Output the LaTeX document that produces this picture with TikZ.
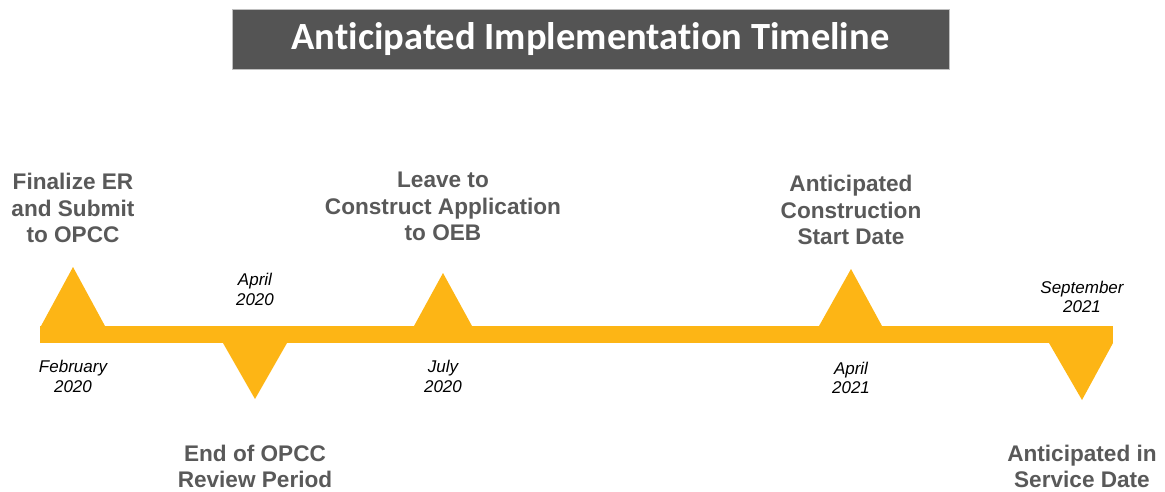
\documentclass[tikz,border=0pt]{standalone}
\usepackage{fontspec}
\setmainfont{Liberation Sans}
\newfontfamily\titlefont[Ligatures=NoCommon]{Carlito}
\definecolor{baryellow}{HTML}{FDB515}
\definecolor{labelgray}{HTML}{595959}
\definecolor{titlefill}{HTML}{545454}
\definecolor{titleedge}{HTML}{BFBFBF}
\begin{document}
\begin{tikzpicture}[x=1pt,y=-1pt,
  event/.style={inner sep=0pt, align=center, text=labelgray, font=\bfseries\fontsize{22.6}{26.8}\selectfont},
  datelbl/.style={inner sep=0pt, align=center, text=black, font=\itshape\fontsize{17}{19.5}\selectfont},
  marker/.style={fill=baryellow, draw=none}]
\useasboundingbox (0,0) rectangle (1165,491);
% title
\node[fill=titlefill, draw=titleedge, line width=0.8pt, minimum width=717pt, minimum height=60pt, inner sep=0pt,
      text=white, font=\titlefont\bfseries\fontsize{38.5}{42}\selectfont] (title) at (590.5,39) {Anticipated Implementation Timeline};
% bar
\fill[marker] (40,326) rectangle (1113,343);
% markers
\fill[marker] (41,326) -- (73,267) -- (105,326) -- cycle;
\fill[marker] (223,343) -- (255,399) -- (287,343) -- cycle;
\fill[marker] (414,326) -- (443,273) -- (472,326) -- cycle;
\fill[marker] (819,326) -- (851,269) -- (882,326) -- cycle;
\fill[marker] (1049,343) -- (1082,400) -- (1113,343) -- cycle;
% event labels
\node[event] (e1) at (73,208) {Finalize ER\\and Submit\\to OPCC};
\node[event] (e2) at (255,466.5) {End of OPCC\\Review Period};
\node[event] (e3) at (443,206.5) {Leave to\\Construct Application\\to OEB};
\node[event] (e4) at (851,210) {Anticipated\\Construction\\Start Date};
\node[event] (e5) at (1082,466.5) {Anticipated in\\Service Date};
% dates
\node[datelbl] (d1) at (73,376.5) {February\\2020};
\node[datelbl] (d2) at (255,289.5) {April\\2020};
\node[datelbl] (d3) at (443,376.5) {July\\2020};
\node[datelbl] (d4) at (851,378) {April\\2021};
\node[datelbl] (d5) at (1082,297) {September\\2021};
\end{tikzpicture}
\end{document}
